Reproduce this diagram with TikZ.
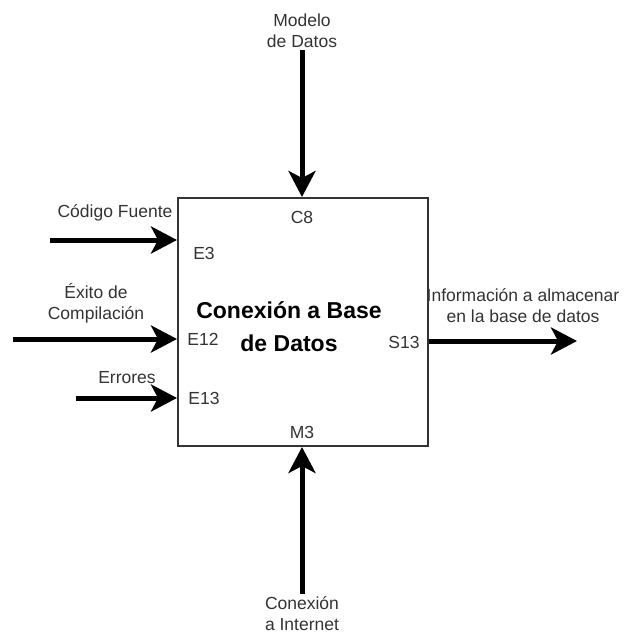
\documentclass[tikz,border=0pt]{standalone}
\usepackage{fontspec}
\setmainfont{Liberation Sans}
\usetikzlibrary{arrows.meta}
\begin{document}
\begin{tikzpicture}[x=1pt,y=-1pt,
  lbl/.style={inner sep=0pt, text=black!80, font=\fontsize{17.5}{21}\selectfont, align=center},
  port/.style={inner sep=0pt, text=black!80, font=\fontsize{17.5}{21}\selectfont},
  flow/.style={line width=5pt, -{Stealth[length=26pt,width=27pt,inset=7pt]}},
  activity/.style={draw=black!80, line width=2pt, minimum width=250pt, minimum height=248pt, inner sep=0pt}]
  \useasboundingbox (0,0) rectangle (624,634);

  % activity box
  \node[activity] (box) at (303,322) {};
  \node[inner sep=0pt, align=center, font=\fontsize{23}{33}\selectfont\bfseries] (title) at (289,327)
    {Conexión a Base\\de Datos};

  % ports
  \node[port] (c8) at (302,217) {C8};
  \node[port] (e3) at (204,253) {E3};
  \node[port] (e12) at (203,339) {E12};
  \node[port] (e13) at (204,398) {E13};
  \node[port] (s13) at (404,342) {S13};
  \node[port] (m3) at (302,432) {M3};

  % control (top)
  \node[lbl] (modelo) at (302,31) {Modelo\\de Datos};
  \coordinate (ctop) at (302,50);
  \draw[flow] (ctop) -- (box.north -| ctop);

  % mechanism (bottom)
  \node[lbl] (internet) at (302,614) {Conexión\\a Internet};
  \coordinate (mbot) at (302,594);
  \draw[flow] (mbot) -- (box.south -| mbot);

  % inputs (left)
  \node[lbl] (codigo) at (115,213) {Código Fuente};
  \coordinate (in1) at (50,240);
  \draw[flow] (in1) -- (box.west |- in1);

  \node[lbl] (exito) at (96,303) {Éxito de\\Compilación};
  \coordinate (in2) at (13,339);
  \draw[flow] (in2) -- (box.west |- in2);

  \node[lbl] (errores) at (127,378) {Errores};
  \coordinate (in3) at (76,398);
  \draw[flow] (in3) -- (box.west |- in3);

  % output (right)
  \node[lbl] (info) at (523,306) {Información a almacenar\\en la base de datos};
  \coordinate (out1) at (577,341);
  \draw[flow] (box.east |- out1) -- (out1);
\end{tikzpicture}
\end{document}
